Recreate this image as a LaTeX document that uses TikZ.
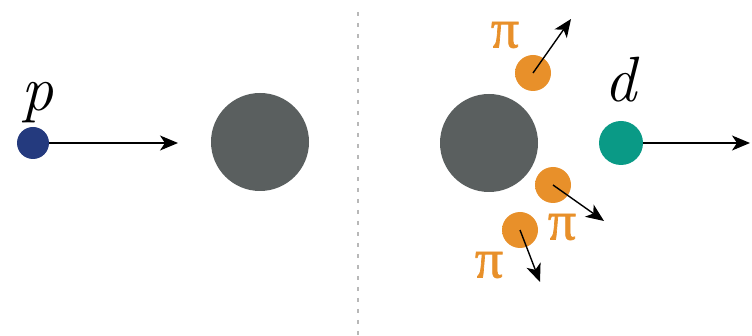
\documentclass[tikz,border=0pt]{standalone}
\usepackage{fontspec}
\newfontfamily\pifont[FakeBold=1.2]{Liberation Serif}
\usetikzlibrary{arrows.meta}
\definecolor{nucleus}{HTML}{5A5F5F}
\definecolor{proton}{HTML}{243A7E}
\definecolor{deut}{HTML}{0A9A86}
\definecolor{pion}{HTML}{E8902A}
\definecolor{divider}{HTML}{B8B8B8}
\pgfdeclareradialshading{pionblur}{\pgfpoint{0bp}{0bp}}{%
  color(0bp)=(pion); color(36bp)=(pion); color(50bp)=(white); color(100bp)=(white)}
\tikzset{
  mom/.style={line width=1.4pt, -{Stealth[length=18pt,width=15pt,inset=5pt]}},
  ball/.style={circle, inner sep=0pt, minimum size=#1},
  pionball/.style={circle, inner sep=0pt, minimum size=36pt, shading=pionblur},
  pilab/.style={text=pion, font=\pifont\fontsize{56}{56}\selectfont, inner sep=0pt},
  italab/.style={font=\itshape\fontsize{64}{64}\selectfont, inner sep=0pt}
}
\begin{document}
\begin{tikzpicture}[x=1pt,y=-1pt]
\useasboundingbox (0,0) rectangle (752,336);
% divider
\coordinate (dtop) at (358,12);
\coordinate (dbot) at (358,336);
\draw[divider, line width=2.4pt, dash pattern=on 4pt off 7pt] (dtop) -- (dbot);
% left side
\node[ball=32pt, fill=proton] (p) at (33,143) {};
\node[italab] (plab) at (37,103) {p};
\coordinate (pend) at (178,143);
\draw[mom] (p.east) -- (pend);
\node[ball=98pt, fill=nucleus] (n1) at (260,142) {};
% right side
\node[ball=98pt, fill=nucleus] (n2) at (489,143) {};
\node[ball=44pt, fill=deut] (d) at (621,143) {};
\node[italab] (dlab) at (620,80) {d};
\coordinate (dend) at (750,143);
\draw[mom] (d.east) -- (dend);
% pions
\node[pionball] (pi1) at (533,73) {};
\node[pionball] (pi2) at (553,185) {};
\node[pionball] (pi3) at (520,230) {};
\coordinate (e1) at (571,19);
\coordinate (e2) at (604,221);
\coordinate (e3) at (540,282);
\draw[mom] (pi1.center) -- (e1);
\draw[mom] (pi2.center) -- (e2);
\draw[mom] (pi3.center) -- (e3);
\node[pilab] (l1) at (505,35) {π};
\node[pilab] (l2) at (562,227) {π};
\node[pilab] (l3) at (489,265) {π};
\end{tikzpicture}
\end{document}
